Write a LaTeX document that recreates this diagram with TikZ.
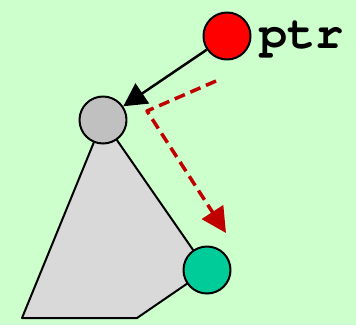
\documentclass[tikz,border=0pt]{standalone}
\usepackage{fontspec}
\usetikzlibrary{arrows.meta}
\definecolor{bggreen}{HTML}{CCFFCC}
\definecolor{treegray}{HTML}{D9D9D9}
\definecolor{nodegray}{HTML}{C0C0C0}
\definecolor{leafgreen}{HTML}{00CC99}
\definecolor{darkred}{HTML}{C00000}
\newcommand{\ptrfont}{\fontencoding{T1}\fontfamily{pcr}\fontseries{b}\fontsize{47}{47}\selectfont}
\tikzset{
  ball/.style={circle,draw=black,line width=2pt,minimum size=47pt,inner sep=0pt},
}
\begin{document}
\begin{tikzpicture}[x=1pt,y=-1pt,line join=round]
\fill[bggreen] (0,0) rectangle (356,325);
\useasboundingbox (0,0) rectangle (356,325);
% subtree
\coordinate (rootc) at (103,120);
\coordinate (childc) at (207,270);
\coordinate (bl) at (22,318);
\coordinate (br) at (137,318);
\filldraw[fill=treegray,draw=black,line width=2pt] (rootc) -- (bl) -- (br) -- (childc) -- cycle;
% nodes
\node[ball,fill=red] (ptr) at (227,36) {};
\node[ball,fill=nodegray] (root) at (rootc) {};
\node[ball,fill=leafgreen] (child) at (childc) {};
\node[anchor=base west,inner sep=0pt,font=\ptrfont] (ptrlabel) at (259,48) {ptr};
% pointer
\draw[-{Triangle[length=23pt,width=24pt]},line width=2.5pt] (ptr) -- (root);
% move down
\coordinate (mvstart) at (216,81);
\coordinate (mvcorner) at (147,111);
\coordinate (mvend) at (226,233);
\draw[-{Triangle[length=25pt,width=25pt]},darkred,line width=3.5pt,dash pattern=on 11pt off 6pt]
  (mvstart) -- (mvcorner) -- (mvend);
\end{tikzpicture}
\end{document}
